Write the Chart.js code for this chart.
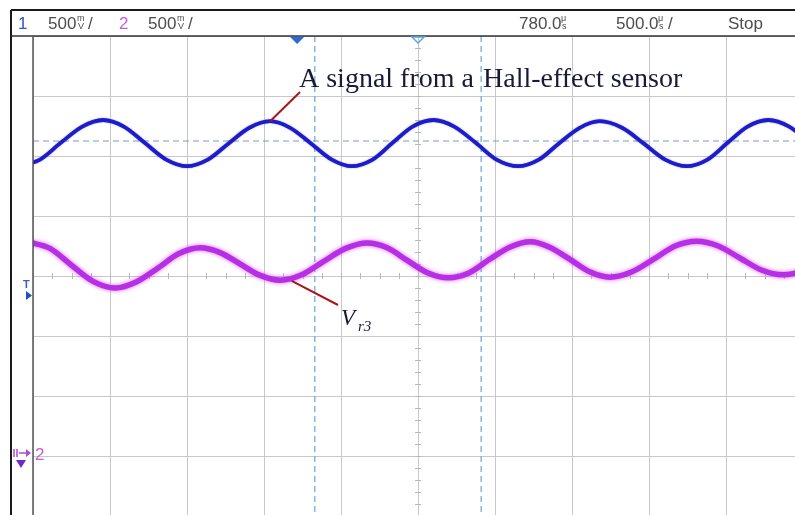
<!DOCTYPE html>
<html>
<head>
<meta charset="utf-8">
<script src="https://cdn.jsdelivr.net/npm/chart.js@4.4.1/dist/chart.umd.min.js"></script>
<style>
  html, body { margin: 0; padding: 0; background: #fff; overflow: hidden; width: 795px; height: 515px; }
  #wrap { position: absolute; left: 0; top: 0; width: 820px; height: 530px; }
</style>
</head>
<body>
<div id="wrap"><canvas id="scope" width="820" height="530"></canvas></div>
<script>
// =========================================================
// DATA (screen divisions: 500 us/div across, 500 mV/div up)
// =========================================================
const hallTime = [-0.18, 0.09, 0.36, 0.64, 0.91, 1.18, 1.45, 1.73, 2.00, 2.27, 2.54, 2.81, 3.08,
  3.34, 3.61, 3.88, 4.14, 4.41, 4.67, 4.93, 5.20, 5.47, 5.75, 6.02, 6.30, 6.57, 6.83, 7.10, 7.36,
  7.65, 7.93, 8.21, 8.49, 8.76, 9.02, 9.28, 9.55, 9.82, 10.09];
const hallSignal = [1.83, 1.94, 2.22, 2.49, 2.60, 2.49, 2.22, 1.94, 1.83, 1.94, 2.21, 2.47, 2.58,
  2.47, 2.21, 1.94, 1.83, 1.94, 2.22, 2.49, 2.60, 2.49, 2.22, 1.94, 1.83, 1.94, 2.21, 2.47, 2.58,
  2.47, 2.21, 1.94, 1.83, 1.94, 2.22, 2.49, 2.60, 2.49, 2.22];

const vr3Time = [-0.07, 0.22, 0.50, 0.78, 1.07, 1.34, 1.62, 1.89, 2.17, 2.43, 2.69, 2.95, 3.21,
  3.49, 3.77, 4.06, 4.34, 4.60, 4.86, 5.13, 5.39, 5.66, 5.92, 6.19, 6.46, 6.71, 6.97, 7.23, 7.49,
  7.78, 8.06, 8.34, 8.62, 8.90, 9.18, 9.46, 9.74, 10.02, 10.29];
const vr3Signal = [0.57, 0.46, 0.18, -0.09, -0.20, -0.10, 0.13, 0.37, 0.47, 0.39, 0.20, 0.01, -0.07,
  0.02, 0.24, 0.46, 0.55, 0.47, 0.26, 0.05, -0.03, 0.05, 0.27, 0.48, 0.57, 0.48, 0.28, 0.07, -0.02,
  0.07, 0.28, 0.50, 0.58, 0.50, 0.30, 0.10, 0.02, 0.10, 0.31];

// cursors (divisions)
const cursorTimes = [3.66, 5.82];
const cursorLevel = 2.25;
const triggerTime = 3.43;

// =========================================================
// DECORATION PLUGIN (scope frame, header, cursors, labels)
// =========================================================
function stackedUnit(ctx, x, top, bottom, color) {
  ctx.save();
  ctx.fillStyle = color;
  ctx.font = '9px "Liberation Sans"';
  ctx.textAlign = 'left';
  ctx.fillText(top, x, 21);
  ctx.fillText(bottom, x + 1, 29);
  ctx.restore();
}

const scopeDecor = {
  id: 'scopeDecor',
  beforeDraw(chart) {
    const ctx = chart.ctx;
    ctx.save();
    ctx.fillStyle = '#fff';
    ctx.fillRect(0, 0, chart.width, chart.height);
    ctx.restore();
  },
  beforeDatasetsDraw(chart) {
    const { ctx, chartArea: a, scales: { x, y } } = chart;
    ctx.save();
    // minor ticks on centre lines
    ctx.strokeStyle = '#b8b8b8';
    ctx.lineWidth = 1;
    const cy = y.getPixelForValue(0), cx = x.getPixelForValue(5);
    for (let t = 0; t <= 10; t += 0.25) {
      const px = Math.round(x.getPixelForValue(t)) + 0.5;
      ctx.beginPath(); ctx.moveTo(px, cy - 3); ctx.lineTo(px, cy + 3); ctx.stroke();
    }
    for (let v = -4; v <= 4; v += 0.2) {
      const py = Math.round(y.getPixelForValue(v)) + 0.5;
      ctx.beginPath(); ctx.moveTo(cx - 3, py); ctx.lineTo(cx + 3, py); ctx.stroke();
    }
    // cursors
    ctx.setLineDash([6, 4]);
    ctx.lineWidth = 1.2;
    ctx.strokeStyle = '#62a8dc';
    cursorTimes.forEach(t => {
      const px = x.getPixelForValue(t);
      ctx.beginPath(); ctx.moveTo(px, a.top); ctx.lineTo(px, a.bottom); ctx.stroke();
    });
    ctx.strokeStyle = '#7b9cc0';
    const ly = y.getPixelForValue(cursorLevel);
    ctx.beginPath(); ctx.moveTo(a.left, ly); ctx.lineTo(a.right, ly); ctx.stroke();
    ctx.restore();
  },
  beforeDatasetDraw(chart, args) {
    const ctx = chart.ctx;
    ctx.save();
    if (args.index === 1) {
      ctx.shadowColor = 'rgba(205, 90, 245, 0.9)';
      ctx.shadowBlur = 4;
    } else {
      ctx.shadowColor = 'rgba(40, 40, 220, 0.6)';
      ctx.shadowBlur = 1.5;
    }
  },
  afterDatasetDraw(chart) {
    chart.ctx.restore();
  },
  afterDraw(chart) {
    const { ctx, scales: { x, y } } = chart;
    ctx.save();

    // header strip
    ctx.fillStyle = '#fff';
    ctx.fillRect(0, 0, 820, 35);
    ctx.strokeStyle = '#1a1a1a';
    ctx.lineWidth = 2;
    ctx.beginPath(); ctx.moveTo(11, 10); ctx.lineTo(820, 10); ctx.stroke();
    ctx.beginPath(); ctx.moveTo(11, 10); ctx.lineTo(11, 530); ctx.stroke();
    ctx.lineWidth = 1.5;
    ctx.strokeStyle = '#333';
    ctx.beginPath(); ctx.moveTo(11, 36); ctx.lineTo(820, 36); ctx.stroke();
    ctx.strokeStyle = '#555';
    ctx.beginPath(); ctx.moveTo(33, 36); ctx.lineTo(33, 530); ctx.stroke();

    const grey = '#4d4d4d';
    ctx.font = '17px "Liberation Sans"';
    ctx.textBaseline = 'alphabetic';
    ctx.fillStyle = '#3a4fc0'; ctx.fillText('1', 18, 28.5);
    ctx.fillStyle = grey; ctx.fillText('500', 48, 28.5);
    stackedUnit(ctx, 77, 'm', 'V', grey);
    ctx.font = '17px "Liberation Sans"'; ctx.fillStyle = grey; ctx.fillText('/', 88, 28.5);
    ctx.fillStyle = '#c55fd2'; ctx.fillText('2', 119, 28.5);
    ctx.fillStyle = grey; ctx.fillText('500', 148, 28.5);
    stackedUnit(ctx, 177, 'm', 'V', grey);
    ctx.font = '17px "Liberation Sans"'; ctx.fillStyle = grey; ctx.fillText('/', 188, 28.5);
    ctx.fillText('780.0', 519, 28.5);
    stackedUnit(ctx, 561, '\u03bc', 's', grey);
    ctx.font = '17px "Liberation Sans"'; ctx.fillStyle = grey; ctx.fillText('500.0', 616, 28.5);
    stackedUnit(ctx, 658, '\u03bc', 's', grey);
    ctx.font = '17px "Liberation Sans"'; ctx.fillStyle = grey; ctx.fillText('/', 668, 28.5);
    ctx.fillText('Stop', 728, 28.5);

    // trigger position markers
    const tx = x.getPixelForValue(triggerTime);
    ctx.fillStyle = '#2a6ad6';
    ctx.beginPath(); ctx.moveTo(tx - 7, 37); ctx.lineTo(tx + 7, 37); ctx.lineTo(tx, 44); ctx.closePath(); ctx.fill();
    const mx = x.getPixelForValue(5);
    ctx.strokeStyle = '#5aa8e0'; ctx.lineWidth = 1.5;
    ctx.beginPath(); ctx.moveTo(mx - 6, 37); ctx.lineTo(mx + 6, 37); ctx.lineTo(mx, 43); ctx.closePath(); ctx.stroke();

    // trigger level marker "T"
    ctx.fillStyle = '#3a60c8';
    ctx.font = 'bold 11px "Liberation Sans"';
    ctx.fillText('T', 23, 288);
    ctx.fillStyle = '#2050c0';
    ctx.beginPath(); ctx.moveTo(26, 291); ctx.lineTo(26, 300); ctx.lineTo(32, 295.5); ctx.closePath(); ctx.fill();

    // channel 2 ground marker
    ctx.strokeStyle = '#b04ad0'; ctx.lineWidth = 1.5;
    ctx.beginPath(); ctx.moveTo(14, 449); ctx.lineTo(14, 457); ctx.moveTo(17, 449); ctx.lineTo(17, 457); ctx.stroke();
    ctx.beginPath(); ctx.moveTo(19, 453); ctx.lineTo(28, 453); ctx.stroke();
    ctx.fillStyle = '#b04ad0';
    ctx.beginPath(); ctx.moveTo(26, 449); ctx.lineTo(31, 453); ctx.lineTo(26, 457); ctx.closePath(); ctx.fill();
    ctx.fillStyle = '#6a2ad0';
    ctx.beginPath(); ctx.moveTo(16, 460); ctx.lineTo(26, 460); ctx.lineTo(21, 468); ctx.closePath(); ctx.fill();
    ctx.fillStyle = '#c55fd2';
    ctx.font = '17px "Liberation Sans"';
    ctx.fillText('2', 35, 460);

    // annotations
    ctx.strokeStyle = '#a81818'; ctx.lineWidth = 2;
    ctx.beginPath(); ctx.moveTo(300, 92);
    ctx.lineTo(x.getPixelForValue(3.08), y.getPixelForValue(2.58)); ctx.stroke();
    ctx.beginPath(); ctx.moveTo(x.getPixelForValue(3.36), y.getPixelForValue(-0.08));
    ctx.lineTo(338, 305); ctx.stroke();

    ctx.fillStyle = '#171b38';
    ctx.font = '28px "Liberation Serif"';
    ctx.fillText('A signal from a', 299, 87);
    ctx.fillText('Hall-effect sensor', 483, 87);
    ctx.font = 'italic 23px "Liberation Serif"';
    ctx.fillText('V', 341, 325);
    ctx.font = 'italic 15px "Liberation Serif"';
    ctx.fillText('r3', 358, 331);

    ctx.restore();
  }
};

// =========================================================
// CHART
// =========================================================
const hallPoints = hallTime.map((t, i) => ({ x: t, y: hallSignal[i] }));
const vr3Points = vr3Time.map((t, i) => ({ x: t, y: vr3Signal[i] }));

new Chart(document.getElementById('scope').getContext('2d'), {
  type: 'line',
  data: {
    datasets: [
      { label: 'Hall sensor', data: hallPoints, borderColor: '#1c1cc8', borderWidth: 3.8,
        pointRadius: 0, cubicInterpolationMode: 'monotone', fill: false },
      { label: 'Vr3', data: vr3Points, borderColor: '#b82ee4', borderWidth: 5.5,
        pointRadius: 0, cubicInterpolationMode: 'monotone', fill: false }
    ]
  },
  options: {
    responsive: false,
    animation: false,
    events: [],
    layout: { padding: { left: 33, top: 36, right: 17, bottom: 14 } },
    plugins: { legend: { display: false }, tooltip: { enabled: false } },
    scales: {
      x: { type: 'linear', min: 0, max: 10,
        ticks: { display: false, stepSize: 1 },
        grid: { color: '#c8c8c8', lineWidth: 1, drawTicks: false },
        border: { display: false } },
      y: { type: 'linear', min: -4, max: 4,
        ticks: { display: false, stepSize: 1 },
        grid: { color: '#c8c8c8', lineWidth: 1, drawTicks: false },
        border: { display: false } }
    }
  },
  plugins: [scopeDecor]
});
</script>
</body>
</html>
